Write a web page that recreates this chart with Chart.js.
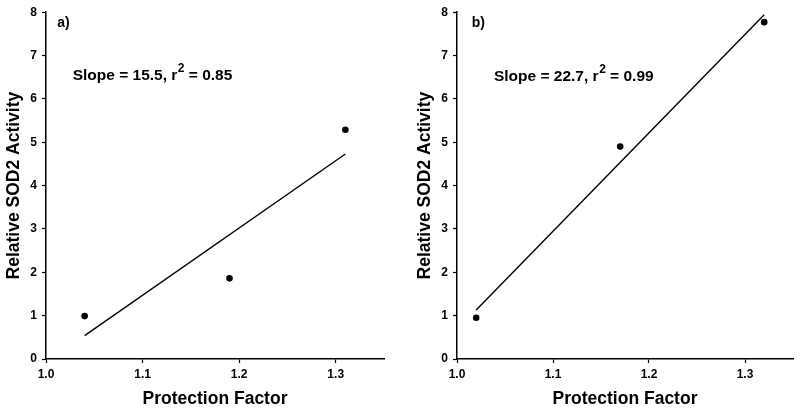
<!DOCTYPE html>
<html>
<head>
<meta charset="utf-8">
<script src="https://cdn.jsdelivr.net/npm/chart.js@4.4.1/dist/chart.umd.min.js"></script>
<style>
  html, body { margin: 0; padding: 0; background: #fff; }
  .panel { position: absolute; top: 0; height: 413px; }
  #wrapA { left: 0; width: 400px; }
  #wrapB { left: 411px; width: 389px; }
</style>
</head>
<body>
<div class="panel" id="wrapA"><canvas id="chartA" width="400" height="413"></canvas></div>
<div class="panel" id="wrapB"><canvas id="chartB" width="389" height="413"></canvas></div>
<script>
// ── Data ──
const xTicks = [1.0, 1.1, 1.2, 1.3];
const yTicks = [0, 1, 2, 3, 4, 5, 6, 7, 8];

// panel a
const aX = [1.04, 1.19, 1.31];
const aY = [0.99, 1.86, 5.29];
const aFitX = [1.04, 1.31];
const aFitY = [0.54, 4.73];
const aStats = ['Slope = 15.5, r', '2', ' = 0.85'];

// panel b
const bX = [1.02, 1.17, 1.32];
const bY = [0.95, 4.90, 7.77];
const bFitX = [1.02, 1.32];
const bFitY = [1.13, 7.94];
const bStats = ['Slope = 22.7, r', '2', ' = 0.99'];

const FONT = '"Liberation Sans", Arial, Helvetica, sans-serif';
Chart.defaults.font.family = FONT;
Chart.defaults.font.weight = 'bold';
Chart.defaults.color = '#000';

const pts = (xs, ys) => xs.map((x, i) => ({ x: x, y: ys[i] }));

// draws the panel letter and the slope / r² text
const notesPlugin = {
  id: 'notes',
  afterDraw(chart, args, opts) {
    const { ctx, scales: { x, y } } = chart;
    ctx.save();
    ctx.fillStyle = '#000';
    ctx.textBaseline = 'alphabetic';
    ctx.textAlign = 'left';

    ctx.font = 'bold 14px ' + FONT;
    ctx.fillText(opts.panel, x.getPixelForValue(opts.panelAt[0]), y.getPixelForValue(opts.panelAt[1]));

    let px = x.getPixelForValue(opts.statsAt[0]);
    const py = y.getPixelForValue(opts.statsAt[1]);
    ctx.font = 'bold 15.5px ' + FONT;
    ctx.fillText(opts.stats[0], px, py);
    px += ctx.measureText(opts.stats[0]).width + 0.5;
    ctx.font = 'bold 12px ' + FONT;
    ctx.fillText(opts.stats[1], px, py - 8);
    px += ctx.measureText(opts.stats[1]).width;
    ctx.font = 'bold 15.5px ' + FONT;
    ctx.fillText(opts.stats[2], px, py);
    ctx.restore();
  }
};

function makeChart(id, xs, ys, fitX, fitY, panel, stats, panelAt, statsAt, padRight) {
  return new Chart(document.getElementById(id), {
    type: 'scatter',
    data: {
      datasets: [
        {
          data: pts(fitX, fitY),
          showLine: true,
          borderColor: '#000',
          borderWidth: 1.4,
          pointRadius: 0,
        },
        {
          data: pts(xs, ys),
          backgroundColor: '#000',
          borderColor: '#000',
          pointRadius: 3.3,
          borderWidth: 0,
        }
      ]
    },
    options: {
      responsive: false,
      animation: false,
      layout: { padding: { top: 12, right: padRight, bottom: 0, left: 0 } },
      plugins: {
        legend: { display: false },
        tooltip: { enabled: false },
        notes: { panel, stats, panelAt, statsAt }
      },
      scales: {
        x: {
          type: 'linear',
          min: 1.0,
          max: 1.35,
          afterBuildTicks: s => { s.ticks = xTicks.map(v => ({ value: v })); },
          afterFit: s => { s.height = 54; },
          ticks: {
            font: { size: 12, weight: 'bold' },
            color: '#000',
            padding: 4,
            maxRotation: 0,
            callback: v => v.toFixed(1)
          },
          grid: { drawOnChartArea: false, drawTicks: true, tickLength: 4, color: '#000', tickWidth: 1.2 },
          border: { display: true, color: '#000', width: 1.5 },
          title: {
            display: true,
            text: 'Protection Factor',
            color: '#000',
            font: { size: 17.5, weight: 'bold' },
            padding: { top: 0, bottom: 3 }
          }
        },
        y: {
          min: 0,
          max: 8,
          afterBuildTicks: s => { s.ticks = yTicks.map(v => ({ value: v })); },
          afterFit: s => { s.width = 46; },
          ticks: {
            font: { size: 12, weight: 'bold' },
            color: '#000',
            padding: 5
          },
          grid: { drawOnChartArea: false, drawTicks: true, tickLength: 4, color: '#000', tickWidth: 1.2 },
          border: { display: true, color: '#000', width: 1.5 },
          title: {
            display: true,
            text: 'Relative SOD2 Activity',
            color: '#000',
            font: { size: 17.5, weight: 'bold' },
            padding: { top: 4, bottom: 0 }
          }
        }
      }
    },
    plugins: [notesPlugin]
  });
}

makeChart('chartA', aX, aY, aFitX, aFitY, 'a)', aStats, [1.0117, 7.67], [1.0276, 6.445], 16);
makeChart('chartB', bX, bY, bFitX, bFitY, 'b)', bStats, [1.0153, 7.67], [1.0385, 6.42], 7);
</script>
</body>
</html>
